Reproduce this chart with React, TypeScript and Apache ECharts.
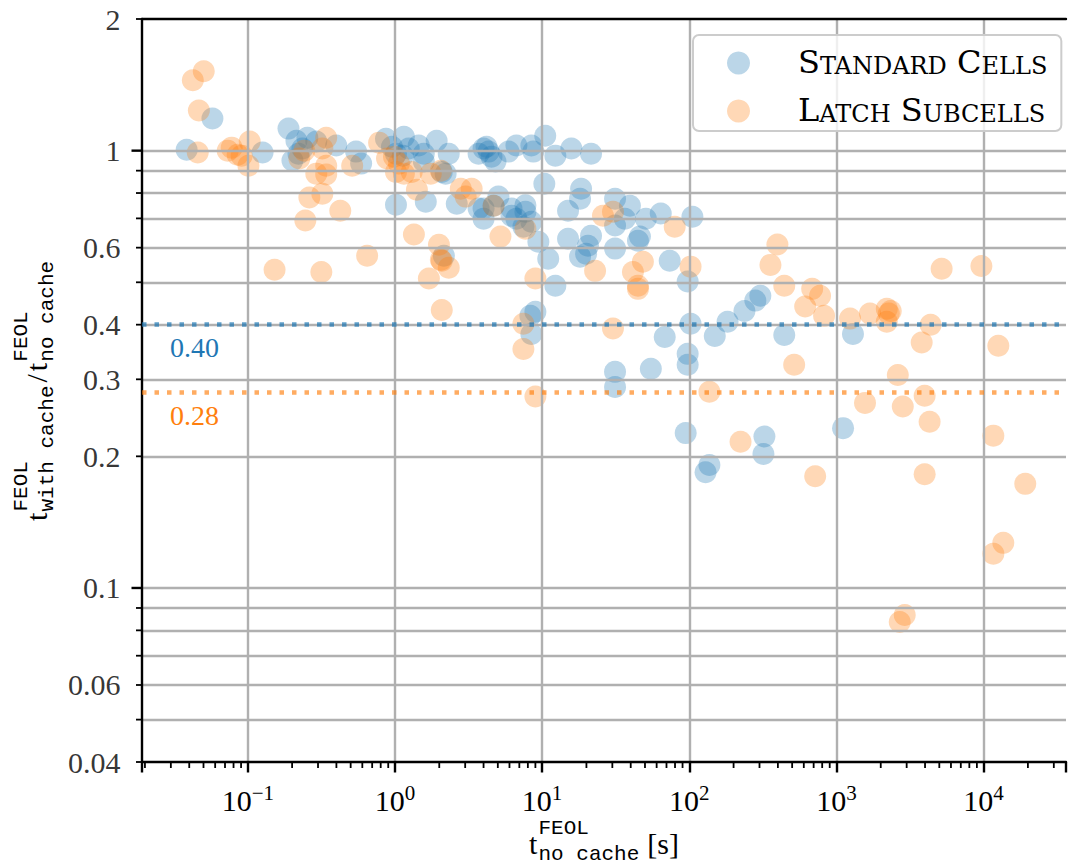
import { useEffect, useRef } from 'react';
import * as echarts from 'echarts';

const SERIF = '"Liberation Serif", "Times New Roman", serif';
const MONO = '"Liberation Mono", "Courier New", monospace';
const LEGEND_FONT = '"DejaVu Serif", serif';

// Standard cells: t_no_cache [s] and ratio t_with_cache / t_no_cache
const STD_T = [
  0.0384, 0.0575, 0.126, 0.189, 0.201, 0.214, 0.254, 0.292, 0.235, 0.221,
  0.399, 0.544, 0.589, 0.869, 0.954, 1.016, 1.15, 1.13, 1.24, 1.45,
  1.92, 2.32, 1.57, 1.57, 2.08, 2.21, 1.016, 1.62, 2.63, 2.15,
  3.70, 4.00, 4.33, 4.19, 4.53, 4.82, 5.91, 6.69, 8.45, 8.72,
  10.5, 12.3, 15.8, 21.5, 10.35, 18.4, 5.05, 4.68, 4.00, 3.70,
  4.00, 6.19, 7.70, 6.69, 7.46, 8.45, 9.43, 7.70, 6.19, 15.0,
  18.1, 15.0, 20.5, 18.1, 19.9, 21.5, 31.3, 39.5, 36.5, 50.7,
  64.0, 105, 31.3, 31.3, 44.8, 46.2, 11.0, 12.3, 73.6, 97.5,
  8.32, 9.00, 8.45, 68.1, 102, 149, 182, 237, 281, 304,
  97.5, 97.5, 54.8, 31.3, 31.3, 442, 1295, 94.5, 137, 129,
  324, 319, 1109,
];
const STD_RATIO = [
  1.005, 1.184, 0.990, 1.123, 0.949, 1.054, 1.070, 1.049, 1.011, 0.984,
  1.028, 0.995, 0.934, 1.065, 1.021, 0.984, 1.076, 0.974, 1.011, 1.028,
  1.054, 0.984, 0.984, 0.944, 0.894, 0.886, 0.752, 0.764, 0.756, 0.575,
  0.984, 1.011, 0.995, 1.021, 0.969, 0.944, 0.995, 1.028, 1.028, 0.995,
  1.082, 0.974, 1.011, 0.984, 0.840, 0.818, 0.785, 0.748, 0.737, 0.737,
  0.699, 0.710, 0.725, 0.699, 0.670, 0.688, 0.619, 0.750, 0.737, 0.729,
  0.776, 0.629, 0.606, 0.572, 0.581, 0.639, 0.776, 0.748, 0.699, 0.699,
  0.718, 0.706, 0.674, 0.597, 0.622, 0.636, 0.566, 0.491, 0.560, 0.502,
  0.419, 0.428, 0.381, 0.375, 0.402, 0.377, 0.406, 0.430, 0.454, 0.466,
  0.343, 0.324, 0.317, 0.312, 0.288, 0.379, 0.381, 0.226, 0.191, 0.184,
  0.222, 0.2025, 0.232,
];

// Latch subcells
const LATCH_T = [
  0.0423, 0.0502, 0.0465, 0.0457, 0.073, 0.0777, 0.0853, 0.103, 0.101, 0.0908,
  0.341, 0.321, 0.242, 0.224, 0.341, 0.292, 0.341, 0.262, 0.321, 0.425,
  0.246, 0.152, 0.316, 0.647, 0.512, 0.780, 0.883, 0.985, 1.064, 1.016,
  1.15, 1.345, 1.30, 1.75, 2.05, 1.41, 2.80, 3.32, 3.02, 1.99,
  2.08, 2.32, 2.05, 1.70, 2.08, 4.68, 5.21, 7.70, 9.00, 7.46,
  7.46, 9.00, 30.3, 25.9, 48.4, 41.4, 44.8, 44.8, 22.9, 30.3,
  79.6, 102, 137, 223, 397, 356, 442, 684, 774, 613,
  824, 516, 1237, 1689, 2198, 2268, 2198, 2339, 4365, 3795,
  5185, 9660, 12590, 2612, 1563, 2823, 3975, 4297, 717, 3975,
  11650, 19190, 13610, 11650, 2911, 2692,
];
const LATCH_RATIO = [
  1.448, 1.519, 1.236, 0.990, 1.0, 1.016, 0.979, 1.049, 0.924, 0.974,
  1.070, 1.011, 1.0, 0.959, 0.924, 0.886, 0.882, 0.781, 0.797, 0.729,
  0.692, 0.534, 0.528, 0.575, 0.924, 1.043, 0.959, 0.969, 0.934, 0.894,
  0.886, 0.643, 0.894, 0.886, 0.900, 0.814, 0.818, 0.818, 0.785, 0.609,
  0.560, 0.540, 0.563, 0.510, 0.432, 0.748, 0.636, 0.663, 0.510, 0.402,
  0.352, 0.274, 0.725, 0.710, 0.557, 0.528, 0.491, 0.483, 0.531, 0.392,
  0.670, 0.543, 0.281, 0.216, 0.610, 0.548, 0.491, 0.483, 0.466, 0.440,
  0.419, 0.324, 0.413, 0.424, 0.435, 0.424, 0.406, 0.430, 0.400, 0.364,
  0.537, 0.545, 0.358, 0.307, 0.265, 0.260, 0.275, 0.240, 0.180, 0.182,
  0.223, 0.173, 0.1268, 0.1197, 0.0867, 0.0836,
];

const STD_MEAN = 0.40;
const LATCH_MEAN = 0.282;

const X_MIN = 0.0191;
const X_MAX = 36300;
const Y_MIN = 0.04;
const Y_MAX = 2;

const Y_TICK_LABELS = [2, 1, 0.6, 0.4, 0.3, 0.2, 0.1, 0.06, 0.04];
const Y_MAJOR_TICKS = [1, 0.1];
const Y_MINOR_TICKS = [2, 0.9, 0.8, 0.7, 0.6, 0.5, 0.4, 0.3, 0.2, 0.09, 0.08, 0.07, 0.06, 0.05, 0.04];
const Y_GRID = [1, 0.9, 0.8, 0.7, 0.6, 0.5, 0.4, 0.3, 0.2, 0.1, 0.09, 0.08, 0.07, 0.06, 0.05];
const X_MINOR_TICKS = [
  0.02, 0.03, 0.04, 0.05, 0.06, 0.07, 0.08, 0.09,
  0.2, 0.3, 0.4, 0.5, 0.6, 0.7, 0.8, 0.9,
  2, 3, 4, 5, 6, 7, 8, 9,
  20, 30, 40, 50, 60, 70, 80, 90,
  200, 300, 400, 500, 600, 700, 800, 900,
  2000, 3000, 4000, 5000, 6000, 7000, 8000, 9000,
  20000, 30000,
];

const SERIES_NAMES = ['Standard Cells', 'Latch Subcells'];
const BLUE = '#1f77b4';
const ORANGE = '#ff7f0e';

const smallCaps = (name: string) =>
  name
    .split(' ')
    .map((w) => `{c|${w[0]}}{s|${w.slice(1).toUpperCase()}}`)
    .join('{c| }');

const zip = (a: number[], b: number[]) => a.map((v, i) => [v, b[i]]);

const txt = (text: string, x: number, y: number, size: number, family: string) => ({
  type: 'text',
  x,
  y,
  silent: true,
  style: {
    text,
    font: `${size}px ${family}`,
    fontSize: size,
    fontFamily: family,
    fill: '#000',
    align: 'left',
    verticalAlign: 'middle',
    textAlign: 'left',
    textVerticalAlign: 'middle',
  },
});

const MAIN_SIZE = 30;
const SCRIPT_SIZE = 21;
const T_W = 9.5;
const SCRIPT_CHAR = 0.6 * SCRIPT_SIZE;
const SUP_DY = -15;
const SUB_DY = 11;

// x-axis title: t^FEOL_{no cache} [s]
const X_TITLE_LEFT = 529;
const X_TITLE_MID = 843;
const xTitle = {
  type: 'group',
  children: [
    txt('t', X_TITLE_LEFT, X_TITLE_MID, MAIN_SIZE, SERIF),
    txt('FEOL', X_TITLE_LEFT + T_W, X_TITLE_MID + SUP_DY, SCRIPT_SIZE, MONO),
    txt('no cache', X_TITLE_LEFT + T_W, X_TITLE_MID + SUB_DY, SCRIPT_SIZE, MONO),
    txt('[s]', X_TITLE_LEFT + T_W + 8 * SCRIPT_CHAR + 8, X_TITLE_MID, MAIN_SIZE, SERIF),
  ],
};

// y-axis title: t^FEOL_{with cache} / t^FEOL_{no cache}, rotated
const Y0 = -130;
const Y_SUB1 = Y0 + T_W;
const Y_SLASH = Y_SUB1 + 10 * SCRIPT_CHAR + 3;
const Y_T2 = Y_SLASH + 8.3 + 3;
const Y_SUB2 = Y_T2 + T_W;
const yTitle = {
  type: 'group',
  x: 36,
  y: 391,
  rotation: Math.PI / 2,
  children: [
    txt('t', Y0, 0, MAIN_SIZE, SERIF),
    txt('FEOL', Y_SUB1, SUP_DY, SCRIPT_SIZE, MONO),
    txt('with cache', Y_SUB1, SUB_DY, SCRIPT_SIZE, MONO),
    txt('/', Y_SLASH, 0, MAIN_SIZE, SERIF),
    txt('t', Y_T2, 0, MAIN_SIZE, SERIF),
    txt('FEOL', Y_SUB2, SUP_DY, SCRIPT_SIZE, MONO),
    txt('no cache', Y_SUB2, SUB_DY, SCRIPT_SIZE, MONO),
  ],
};

const option: any = {
  animation: false,
  backgroundColor: '#fff',
  grid: { left: 142, top: 19, width: 928, height: 743, containLabel: false },
  legend: {
    data: SERIES_NAMES,
    left: 693,
    top: 35,
    orient: 'vertical',
    icon: 'circle',
    itemWidth: 23,
    itemHeight: 23,
    itemGap: 16,
    padding: [11, 14, 5, 34],
    backgroundColor: 'rgba(255,255,255,0.8)',
    borderColor: '#cccccc',
    borderWidth: 2,
    borderRadius: 6,
    z: 10,
    formatter: smallCaps,
    textStyle: {
      padding: [0, 0, 0, 43],
      rich: {
        c: { fontSize: 32, fontFamily: LEGEND_FONT, color: '#000', lineHeight: 30, verticalAlign: 'bottom' },
        s: { fontSize: 24, fontFamily: LEGEND_FONT, color: '#000', lineHeight: 30, verticalAlign: 'bottom' },
      },
    },
  },
  xAxis: [
    {
      type: 'log',
      logBase: 10,
      min: X_MIN,
      max: X_MAX,
      z: 3,
      axisLine: { show: true, onZero: false, lineStyle: { color: '#000', width: 2.4 } },
      axisTick: { show: true, length: 10.5, lineStyle: { color: '#000', width: 2.4 } },
      axisLabel: {
        margin: 20,
        formatter: (v: number) => {
          const e = Math.log10(v);
          const r = Math.round(e);
          if (Math.abs(e - r) > 1e-6) return '';
          return `{b|10}{s|${r < 0 ? '\u2212' + -r : r}}`;
        },
        rich: {
          b: { fontSize: 30, fontFamily: SERIF, color: '#000', lineHeight: 36 },
          s: { fontSize: 21, fontFamily: SERIF, color: '#000', lineHeight: 22, verticalAlign: 'top' },
        },
      },
      splitLine: { show: true, showMinLine: false, showMaxLine: false, lineStyle: { color: '#b0b0b0', width: 2.4 } },
    },
    {
      type: 'log',
      logBase: 10,
      position: 'top',
      min: X_MIN,
      max: X_MAX,
      z: 3,
      axisLine: { show: true, onZero: false, lineStyle: { color: '#000', width: 2.4 } },
      axisTick: { show: false },
      axisLabel: { show: false },
      splitLine: { show: false },
    },
  ],
  yAxis: {
    type: 'log',
    logBase: 10,
    min: Y_MIN,
    max: Y_MAX,
    z: 3,
    axisLine: { show: true, onZero: false, lineStyle: { color: '#000', width: 2.4 } },
    axisTick: { show: false },
    axisLabel: { show: false },
    splitLine: { show: false },
  },
  graphic: [xTitle, yTitle],
  series: [
    {
      name: SERIES_NAMES[0],
      type: 'scatter',
      data: zip(STD_T, STD_RATIO),
      symbolSize: 22,
      z: 2,
      itemStyle: { color: BLUE, opacity: 0.3 },
      emphasis: { disabled: true },
      markLine: {
        silent: true,
        z: 4,
        symbol: ['none', 'none'],
        data: [{ yAxis: STD_MEAN }],
        lineStyle: { color: 'rgba(31,119,180,0.7)', width: 4.5, type: [4.5, 8] },
        emphasis: { disabled: true },
        label: {
          show: true,
          position: 'insideStartBottom',
          distance: [28, 9],
          formatter: STD_MEAN.toFixed(2),
          color: BLUE,
          fontSize: 28,
          fontFamily: SERIF,
        },
      },
    },
    {
      name: SERIES_NAMES[1],
      type: 'scatter',
      data: zip(LATCH_T, LATCH_RATIO),
      symbolSize: 22,
      z: 2,
      itemStyle: { color: ORANGE, opacity: 0.3 },
      emphasis: { disabled: true },
      markLine: {
        silent: true,
        z: 4,
        symbol: ['none', 'none'],
        data: [{ yAxis: LATCH_MEAN }],
        lineStyle: { color: 'rgba(255,127,14,0.65)', width: 4.5, type: [4.5, 8] },
        emphasis: { disabled: true },
        label: {
          show: true,
          position: 'insideStartBottom',
          distance: [28, 9],
          formatter: LATCH_MEAN.toFixed(2),
          color: ORANGE,
          fontSize: 28,
          fontFamily: SERIF,
        },
      },
    },
    {
      name: 'grid',
      type: 'scatter',
      data: [],
      silent: true,
      z: 3,
      markLine: {
        silent: true,
        z: 3,
        symbol: ['none', 'none'],
        label: { show: false },
        emphasis: { disabled: true },
        lineStyle: { color: '#b0b0b0', width: 2.4, type: 'solid' },
        data: Y_GRID.map((v) => ({ yAxis: v })),
      },
    },
    {
      name: 'yMajorTicks',
      type: 'scatter',
      silent: true,
      clip: false,
      z: 5,
      symbol: 'rect',
      symbolSize: [10.5, 2.4],
      symbolOffset: [-5.25, 0],
      itemStyle: { color: '#000', opacity: 1 },
      data: Y_MAJOR_TICKS.map((v) => [X_MIN, v]),
    },
    {
      name: 'yMinorTicks',
      type: 'scatter',
      silent: true,
      clip: false,
      z: 5,
      symbol: 'rect',
      symbolSize: [6, 1.8],
      symbolOffset: [-3, 0],
      itemStyle: { color: '#000', opacity: 1 },
      data: Y_MINOR_TICKS.map((v) => [X_MIN, v]),
    },
    {
      name: 'xMinorTicks',
      type: 'scatter',
      silent: true,
      clip: false,
      z: 5,
      symbol: 'rect',
      symbolSize: [1.8, 6],
      symbolOffset: [0, 3],
      itemStyle: { color: '#000', opacity: 1 },
      data: X_MINOR_TICKS.map((v) => [v, Y_MIN]),
    },
    {
      name: 'yLabels',
      type: 'scatter',
      silent: true,
      clip: false,
      z: 5,
      symbolSize: 1,
      itemStyle: { color: 'rgba(0,0,0,0)' },
      label: {
        show: true,
        position: 'left',
        distance: 21,
        formatter: (p: any) => String(p.value[1]),
        color: '#000',
        fontSize: 30,
        fontFamily: SERIF,
      },
      data: Y_TICK_LABELS.map((v) => [X_MIN, v]),
    },
  ],
};

export default function App() {
  const ref = useRef<HTMLDivElement>(null);
  useEffect(() => {
    document.body.style.margin = '0';
    const chart = echarts.init(ref.current as HTMLDivElement, null, { renderer: 'svg' });
    chart.setOption(option);
    return () => chart.dispose();
  }, []);
  return <div ref={ref} style={{ width: 1069, height: 865 }} />;
}
